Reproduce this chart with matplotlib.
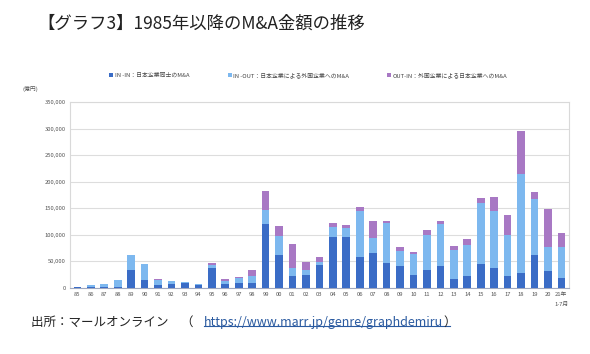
import matplotlib
matplotlib.use("Agg")
import matplotlib.pyplot as plt
from matplotlib.lines import Line2D
import numpy as np

plt.rcParams['font.family'] = ['Noto Sans CJK JP', 'DejaVu Sans']

years = ["85", "86", "87", "88", "89", "90", "91", "92", "93", "94", "95", "96", "97", "98", "99",
         "00", "01", "02", "03", "04", "05", "06", "07", "08", "09", "10", "11", "12", "13", "14",
         "15", "16", "17", "18", "19", "20", "21年\n1-7月"]
in_in = [1000, 2000, 1000, 1000, 33000, 15000, 6000, 7500, 9500, 5700, 37000, 7500, 10000, 9400, 120800,
         62900, 22000, 25200, 44000, 96200, 95600, 58500, 66000, 46500, 40900, 24500, 34600, 40900, 17000, 22600,
         45900, 37700, 22600, 28900, 62300, 32700, 18900]
in_out = [1000, 3000, 6000, 14000, 29000, 29700, 10000, 5000, 1500, 1500, 6300, 6300, 8000, 12600, 25800,
          34600, 15700, 9400, 5700, 19500, 17000, 86800, 29000, 74900, 29500, 39000, 64800, 79200, 54700, 59200,
          113200, 107000, 78000, 185600, 105000, 45300, 59100]
out_in = [0, 0, 0, 0, 0, 0, 1000, 0, 0, 300, 4500, 3200, 3500, 12000, 35200,
          18900, 44700, 14400, 9400, 7000, 5000, 6300, 30200, 4400, 7600, 3800, 10000, 6300, 7600, 11300,
          10100, 25800, 35900, 81100, 13900, 69800, 25800]
labels = ["IN -IN：日本企業同士のM&A", "IN -OUT：日本企業による外国企業へのM&A", "OUT-IN：外国企業による日本企業へのM&A"]
colors = ["#3a6cc6", "#7db8ef", "#a878c4"]

fig = plt.figure(figsize=(5.9, 3.54), dpi=100)
ax = fig.add_axes([0.1186, 0.1864, 0.8454, 0.5256])

x = np.arange(len(years))
a = np.array(in_in); b = np.array(in_out); c = np.array(out_in)
ax.bar(x, a, width=0.57, color=colors[0], label=labels[0], zorder=3)
ax.bar(x, b, width=0.57, bottom=a, color=colors[1], label=labels[1], zorder=3)
ax.bar(x, c, width=0.57, bottom=a + b, color=colors[2], label=labels[2], zorder=3)

ax.set_xlim(-0.55, len(years) - 0.45)
ax.set_ylim(0, 350000)
ax.set_yticks(np.arange(0, 350001, 50000))
ax.set_yticklabels([f"{v:,}" for v in range(0, 350001, 50000)])
ax.grid(axis='y', color='#dddddd', linewidth=0.8, zorder=0)
for s in ax.spines.values():
    s.set_color('#d9d9d9')
    s.set_linewidth(0.8)
ax.spines['bottom'].set_color('#a0a8c0')
ax.tick_params(axis='both', length=0, labelsize=4.2, colors='#555555', pad=3)
ax.set_xticks(x)
ax.set_xticklabels(years, fontsize=4.2, linespacing=2.2, va='top')

ax.text(-0.095, 1.06, "(億円)", transform=ax.transAxes, fontsize=4.2, color='#555555')

leg = fig.legend(loc='center', bbox_to_anchor=(0.523, 0.788), ncol=3, frameon=False,
                 fontsize=4.2, handlelength=0.7, handleheight=0.7, columnspacing=6.5,
                 handletextpad=0.3, labelcolor='#444444')

fig.text(0.064, 0.932, "【グラフ3】1985年以降のM&A金額の推移", fontsize=12.5, color='#222222', va='center')
fig.text(0.052, 0.09, "出所：マールオンライン　（", fontsize=9, color='#222222', va='center')
t = fig.text(0.345, 0.09, "https://www.marr.jp/genre/graphdemiru", fontsize=9, color='#2a5aa0', va='center')
fig.canvas.draw()
bb = t.get_window_extent().transformed(fig.transFigure.inverted())
t2 = fig.text(bb.x1 + 0.002, 0.09, "）", fontsize=9, color='#222222', va='center')
fig.canvas.draw()
bb2 = t2.get_window_extent().transformed(fig.transFigure.inverted())
fig.add_artist(Line2D([bb.x0, bb2.x1 - 0.01], [bb.y0 + 0.008, bb.y0 + 0.008],
                      transform=fig.transFigure, color='#2a5aa0', linewidth=0.8))

fig.savefig("out.png", dpi=100)
